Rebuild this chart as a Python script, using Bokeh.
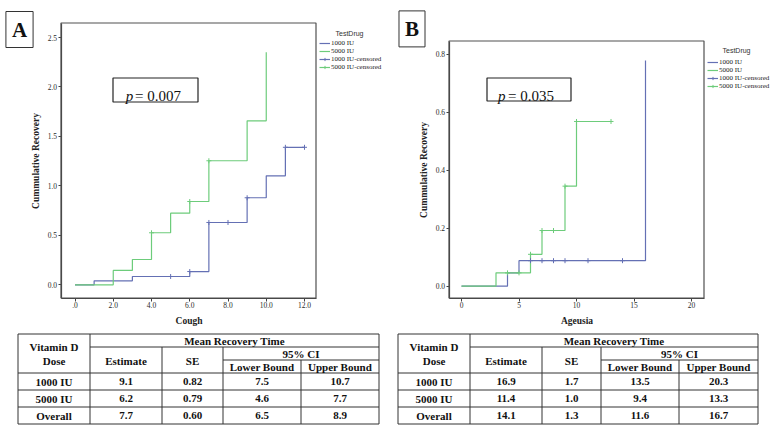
from bokeh.plotting import figure
from bokeh.models import Range1d, FixedTicker, Label, BoxAnnotation, Legend, LegendItem
from bokeh.layouts import column, row
from bokeh.embed import file_html
from bokeh.resources import INLINE
from bokeh.core.properties import value

BLUE = "#6470b4"
GREEN = "#6dcc7b"
SERIF = "Liberation Serif"
SANS = "Liberation Sans"

# ---------------- data: panel A (Cough) ----------------
cough_1000_t = [0, 1, 3, 6, 7, 9, 10, 11, 12]
cough_1000_cum = [0, 0.04, 0.084, 0.134, 0.63, 0.88, 1.102, 1.39, 1.39]
cough_1000_cens_t = [5, 6, 7, 8, 9, 11, 12]
cough_1000_cens_cum = [0.084, 0.134, 0.63, 0.63, 0.88, 1.39, 1.39]
cough_5000_t = [0, 2, 3, 4, 5, 6, 7, 9, 10]
cough_5000_cum = [0, 0.145, 0.256, 0.526, 0.724, 0.842, 1.254, 1.658, 2.352]
cough_5000_cens_t = [4, 6, 7]
cough_5000_cens_cum = [0.526, 0.842, 1.254]
cough_xticks = [0, 2, 4, 6, 8, 10, 12]
cough_xlabels = [".0", "2.0", "4.0", "6.0", "8.0", "10.0", "12.0"]
cough_yticks = [0, 0.5, 1.0, 1.5, 2.0, 2.5]
cough_ylabels = ["0.0", "0.5", "1.0", "1.5", "2.0", "2.5"]
cough_p = "0.007"

# ---------------- data: panel B (Ageusia) ----------------
ageusia_1000_t = [0, 4, 5, 16]
ageusia_1000_cum = [0, 0.046, 0.088, 0.778]
ageusia_1000_cens_t = [6, 7, 8, 9, 11, 14]
ageusia_1000_cens_cum = [0.088, 0.088, 0.088, 0.088, 0.088, 0.088]
ageusia_5000_t = [0, 3, 6, 7, 9, 10, 13]
ageusia_5000_cum = [0, 0.046, 0.11, 0.192, 0.345, 0.568, 0.568]
ageusia_5000_cens_t = [4, 5, 6, 7, 8, 9, 10, 13]
ageusia_5000_cens_cum = [0.046, 0.046, 0.11, 0.192, 0.192, 0.345, 0.568, 0.568]
ageusia_xticks = [0, 5, 10, 15, 20]
ageusia_xlabels = ["0", "5", "10", "15", "20"]
ageusia_yticks = [0, 0.2, 0.4, 0.6, 0.8]
ageusia_ylabels = ["0.0", "0.2", "0.4", "0.6", "0.8"]
ageusia_p = "0.035"

legend_title = "TestDrug"
group_labels = ["1000 IU", "5000 IU", "1000 IU-censored", "5000 IU-censored"]

# ---------------- data: tables ----------------
doses = ["1000 IU", "5000 IU", "Overall"]
cough_estimate = ["9.1", "6.2", "7.7"]
cough_se = ["0.82", "0.79", "0.60"]
cough_lower = ["7.5", "4.6", "6.5"]
cough_upper = ["10.7", "7.7", "8.9"]
ageusia_estimate = ["16.9", "11.4", "14.1"]
ageusia_se = ["1.7", "1.0", "1.3"]
ageusia_lower = ["13.5", "9.4", "11.6"]
ageusia_upper = ["20.3", "13.3", "16.7"]

TOP_H = 328
PAGE_H = 431


def km_chart(cfg):
    X0, X1 = cfg["xspan"]
    W = X1 - X0
    (px0, vx0), (px1, vx1) = cfg["xcal"]
    (py0, vy0), (py1, vy1) = cfg["ycal"]
    fx = lambda px: vx0 + (px - px0) * (vx1 - vx0) / (px1 - px0)
    fy = lambda py: vy0 + (py - py0) * (vy1 - vy0) / (py1 - py0)
    fl, fr, ft, fb = cfg["frame"]
    xv = (fx(fl), fx(fr))
    yv = (fy(fb), fy(ft))
    p = figure(width=W, height=TOP_H, x_range=Range1d(fx(X0), fx(X1)), y_range=Range1d(fy(TOP_H), fy(0)),
               min_border=0, toolbar_location=None, output_backend="svg")
    p.xgrid.visible = False
    p.ygrid.visible = False
    p.outline_line_color = None
    p.background_fill_color = "white"
    p.border_fill_color = "white"
    p.xaxis.ticker = FixedTicker(ticks=cfg["xticks"])
    p.yaxis.ticker = FixedTicker(ticks=cfg["yticks"])
    p.xaxis.major_label_overrides = dict(zip(cfg["xticks"], cfg["xlabels"]))
    p.yaxis.major_label_overrides = dict(zip(cfg["yticks"], cfg["ylabels"]))
    p.xaxis.fixed_location = yv[0]
    p.yaxis.fixed_location = xv[0]
    p.xaxis.bounds = xv
    p.yaxis.bounds = yv
    for ax in (p.xaxis, p.yaxis):
        ax.axis_line_color = "#404040"
        ax.axis_line_width = 1.2
        ax.major_tick_line_color = "#404040"
        ax.major_tick_in = 0
        ax.major_tick_out = 3
        ax.minor_tick_line_color = None
        ax.major_label_text_font = SERIF
        ax.major_label_text_font_size = "7.5px"
        ax.major_label_text_color = "#2a2a2a"
        ax.major_label_standoff = 1
        ax.axis_label_text_font = SERIF
        ax.axis_label_text_font_style = "bold"
        ax.axis_label_text_font_size = "9.5px"
        ax.axis_label_text_color = "#222222"
        ax.axis_label_standoff = 4
    p.xaxis.axis_label = cfg["xtitle"]
    p.yaxis.axis_label = "Cummulative Recovery"

    # visible plot box
    p.add_layout(BoxAnnotation(left=xv[0], right=xv[1], bottom=yv[0], top=yv[1],
                               fill_alpha=0, line_color="#505050", line_alpha=1.0, line_width=1.2))

    (t1, c1, ct1, cc1), (t2, c2, ct2, cc2) = cfg["curves"]
    r1 = p.step(t1, c1, mode="after", line_color=BLUE, line_width=1.2)
    r2 = p.step(t2, c2, mode="after", line_color=GREEN, line_width=1.2)
    s1 = p.scatter(ct1, cc1, marker="cross", size=5, line_color=BLUE, line_width=1)
    s2 = p.scatter(ct2, cc2, marker="cross", size=5, line_color=GREEN, line_width=1)

    sx = lambda rx: rx - X0
    sy = lambda ry: TOP_H - ry

    # p-value box
    bl, br, bt, bb = cfg["pbox"]
    p.add_layout(BoxAnnotation(left=sx(bl), right=sx(br), top=sy(bt), bottom=sy(bb),
                               left_units="screen", right_units="screen",
                               top_units="screen", bottom_units="screen",
                               fill_color="white", fill_alpha=1.0,
                               line_color="#222222", line_alpha=1.0, line_width=1.2))
    ptx, ex, base = cfg["ptext"]
    p.add_layout(Label(x=sx(ptx), y=sy(base), x_units="screen", y_units="screen", text="p",
                       text_font=SERIF, text_font_style="italic", text_font_size="15px",
                       text_align="left", text_baseline="alphabetic", text_color="#111111"))
    p.add_layout(Label(x=sx(ex), y=sy(base), x_units="screen", y_units="screen",
                       text="= " + cfg["pval"],
                       text_font=SERIF, text_font_size="15px",
                       text_align="left", text_baseline="alphabetic", text_color="#111111"))

    # panel letter box
    lx, ly = cfg["letter_xy"]
    p.add_layout(Label(x=sx(lx), y=sy(ly), x_units="screen", y_units="screen", text=cfg["letter"],
                       text_font=SERIF, text_font_style="bold", text_font_size="21px",
                       text_align="center", text_baseline="middle", text_color="#111111",
                       border_line_color="#333333", border_line_width=1,
                       background_fill_color="white", padding=6))

    # legend
    tx, ty = cfg["title_xy"]
    p.add_layout(Label(x=sx(tx), y=sy(ty), x_units="screen", y_units="screen", text=legend_title,
                       text_font=SANS, text_font_size="7px", text_align="left",
                       text_baseline="middle", text_color="#333333"))
    gx, gb = cfg["legend_xb"]
    leg = Legend(items=[LegendItem(label=group_labels[0], renderers=[r1]),
                        LegendItem(label=group_labels[1], renderers=[r2]),
                        LegendItem(label=group_labels[2], renderers=[r1, s1]),
                        LegendItem(label=group_labels[3], renderers=[r2, s2])],
                 location=(sx(gx), sy(gb)), orientation="vertical",
                 glyph_width=11, glyph_height=8, label_height=8, label_width=10,
                 label_standoff=1, spacing=0, padding=0, margin=0,
                 label_text_font=SERIF, label_text_font_size="7px", label_text_color="#222222",
                 border_line_color=None, background_fill_alpha=0)
    p.add_layout(leg)
    return p


Y_TOP, Y_MRT, Y_CI, Y_HDR, Y_R1, Y_R2, Y_BOT = 333.5, 346.5, 359.5, 372.5, 389.5, 406.5, 423.5


def table_fig(x0, x1, cols, est, se, lo, up):
    L, c1, c2, c3, c4, R = cols
    p = figure(width=x1 - x0, height=PAGE_H - TOP_H, x_range=Range1d(x0, x1), y_range=Range1d(PAGE_H, TOP_H),
               min_border=0, x_axis_type=None, y_axis_type=None,
               toolbar_location=None, output_backend="svg")
    p.xgrid.visible = False
    p.ygrid.visible = False
    p.outline_line_color = None
    hx0 = [L, c1, c3, L, L, L, L]
    hx1 = [R, R, R, R, R, R, R]
    hy = [Y_TOP, Y_MRT, Y_CI, Y_HDR, Y_R1, Y_R2, Y_BOT]
    p.segment(hx0, hy, hx1, hy, line_color="#333333", line_width=1)
    vx = [L, R, c1, c2, c3, c4]
    vy0 = [Y_TOP, Y_TOP, Y_TOP, Y_MRT, Y_MRT, Y_CI]
    vy1 = [Y_BOT, Y_BOT, Y_BOT, Y_BOT, Y_BOT, Y_BOT]
    p.segment(vx, vy0, vx, vy1, line_color="#333333", line_width=1)

    mid = lambda a, b: (a + b) / 2
    tx = [mid(L, c1), mid(L, c1), mid(c1, R), mid(c1, c2), mid(c2, c3), mid(c3, R), mid(c3, c4), mid(c4, R)]
    ty = [346.7, 360.7, 340.0, 360.0, 360.0, 353.0, 366.5, 366.5]
    tt = ["Vitamin D", "Dose", "Mean Recovery Time", "Estimate", "SE", "95% CI", "Lower Bound", "Upper Bound"]
    row_y = [381.3, 398.3, 415.0]
    for i in range(3):
        for xc, colv in zip([mid(L, c1), mid(c1, c2), mid(c2, c3), mid(c3, c4), mid(c4, R)],
                            [doses, est, se, lo, up]):
            tx.append(xc)
            ty.append(row_y[i])
            tt.append(colv[i])
    p.text(tx, ty, text=tt, text_align="center", text_baseline="middle",
           text_font=value(SERIF), text_font_style="bold", text_font_size="11px", text_color="#111111")
    return p


cfgA = dict(xspan=(0, 392), xcal=((74.5, 0), (304.0, 12)), ycal=((284.3, 0), (37.0, 2.5)),
            frame=(60.5, 315.5, 22.5, 297.5),
            xticks=cough_xticks, xlabels=cough_xlabels, yticks=cough_yticks, ylabels=cough_ylabels,
            xtitle="Cough", pval=cough_p, pbox=(112.5, 197.5, 77.5, 101.5), ptext=(125.3, 134.5, 95.6),
            letter="A", letter_xy=(19, 29), title_xy=(335, 32.5), legend_xb=(319, 71),
            curves=[(cough_1000_t, cough_1000_cum, cough_1000_cens_t, cough_1000_cens_cum),
                    (cough_5000_t, cough_5000_cum, cough_5000_cens_t, cough_5000_cens_cum)])
cfgB = dict(xspan=(392, 776), xcal=((461.0, 0), (691.0, 20)), ycal=((285.7, 0), (53.7, 0.8)),
            frame=(448.5, 703.5, 40.5, 297.5),
            xticks=ageusia_xticks, xlabels=ageusia_xlabels, yticks=ageusia_yticks, ylabels=ageusia_ylabels,
            xtitle="Ageusia", pval=ageusia_p, pbox=(486.5, 570.5, 77.5, 100.5), ptext=(497.5, 507.6, 95.6),
            letter="B", letter_xy=(411.5, 28.4), title_xy=(722, 50), legend_xb=(707, 90),
            curves=[(ageusia_1000_t, ageusia_1000_cum, ageusia_1000_cens_t, ageusia_1000_cens_cum),
                    (ageusia_5000_t, ageusia_5000_cum, ageusia_5000_cens_t, ageusia_5000_cens_cum)])

pA = km_chart(cfgA)
pB = km_chart(cfgB)
tA = table_fig(0, 392, (17.5, 89.5, 161.5, 222.5, 300.5, 378.5),
               cough_estimate, cough_se, cough_lower, cough_upper)
tB = table_fig(392, 776, (397.5, 469.5, 541.5, 600.5, 678.5, 757.5),
               ageusia_estimate, ageusia_se, ageusia_lower, ageusia_upper)

layout = column(row(pA, pB), row(tA, tB))
open("out.html", "w").write(file_html(layout, INLINE))
